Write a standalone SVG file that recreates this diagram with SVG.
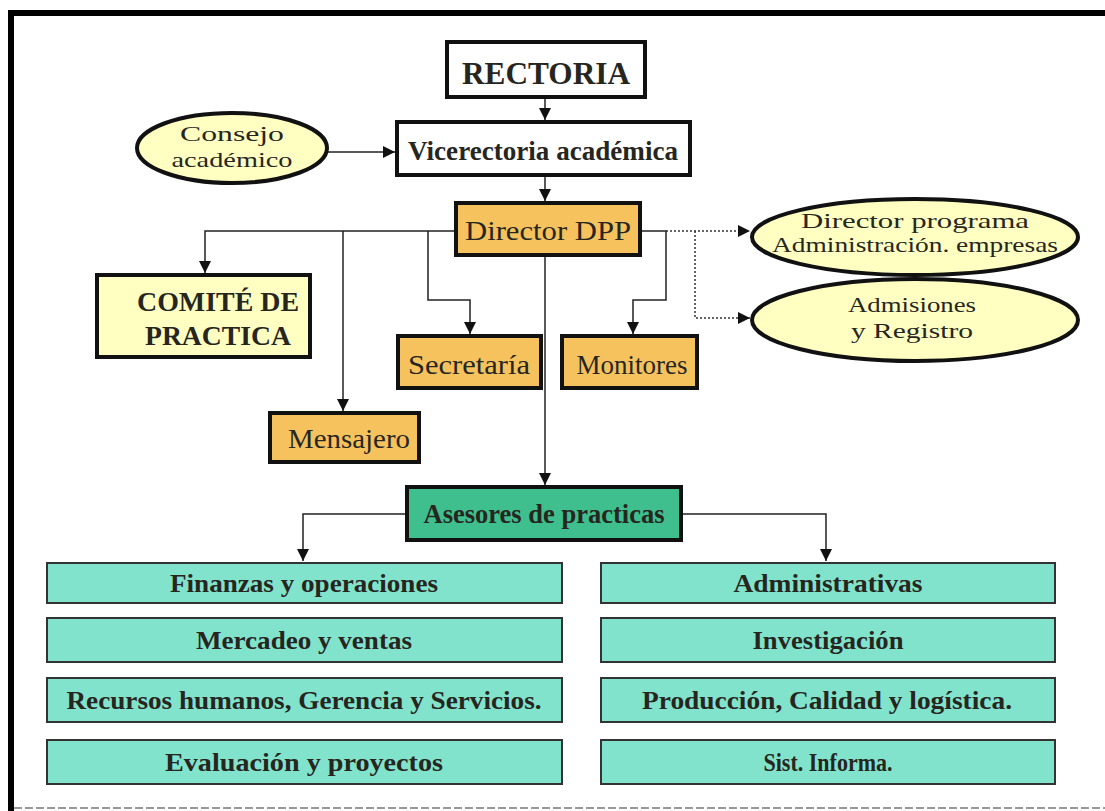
<svg xmlns="http://www.w3.org/2000/svg" width="1105" height="811" viewBox="0 0 1105 811">
<style>
.t{font-family:"Liberation Serif","Times New Roman",serif;fill:#26261f;text-anchor:middle}
.b{font-weight:bold}
.box{stroke:#111;stroke-width:4}
.thin{stroke:#333;stroke-width:2}
.ln{fill:none;stroke:#222;stroke-width:1.5}
.dot{fill:none;stroke:#333;stroke-width:1.5;stroke-dasharray:2 2}
.white{fill:#fff}
.yel{fill:#FFFFC2}
.org{fill:#F6C25E}
.grn{fill:#3FBF8E}
.teal{fill:#82E3CC}
</style>
<defs>
<marker id="ahL" viewBox="0 0 10 10" refX="10" refY="5" markerWidth="12" markerHeight="12" markerUnits="userSpaceOnUse" orient="auto">
<path d="M0,0 L10,5 L0,10 z" fill="#111"/>
</marker>
</defs>
<rect width="1105" height="811" fill="#fff"/>
<g id="frame">
<line x1="8" y1="13" x2="1105" y2="13" stroke="#000" stroke-width="6"/>
<line x1="11" y1="10" x2="11" y2="811" stroke="#000" stroke-width="6"/>
<line x1="14" y1="808" x2="1105" y2="808" stroke="#999" stroke-width="2" stroke-dasharray="8 3"/>
</g>
<g id="connectors">
<line class="ln" x1="545" y1="97" x2="545" y2="120" marker-end="url(#ahL)"/>
<line class="ln" x1="328" y1="152" x2="395" y2="152" marker-end="url(#ahL)"/>
<line class="ln" x1="545" y1="175" x2="545" y2="201" marker-end="url(#ahL)"/>
<polyline class="ln" points="456,231 205,231 205,273" marker-end="url(#ahL)"/>
<line class="ln" x1="343" y1="231" x2="343" y2="411" marker-end="url(#ahL)"/>
<polyline class="ln" points="428,231 428,300 470,300 470,334" marker-end="url(#ahL)"/>
<polyline class="ln" points="640,231 666,231 666,300 633,300 633,334" marker-end="url(#ahL)"/>
<line class="ln" x1="545" y1="255" x2="545" y2="485" marker-end="url(#ahL)"/>
<polyline class="dot" points="666,231 750,231" marker-end="url(#ahL)"/>
<polyline class="dot" points="695,231 695,318 750,318" marker-end="url(#ahL)"/>
<polyline class="ln" points="407,514 303,514 303,561" marker-end="url(#ahL)"/>
<polyline class="ln" points="681,514 826,514 826,561" marker-end="url(#ahL)"/>
</g>
<g id="rectoria">
<rect class="box white" x="447" y="42" width="198" height="55"/>
<text class="t b" x="546" y="84" font-size="31" textLength="168" lengthAdjust="spacingAndGlyphs">RECTORIA</text>
</g>
<g id="consejo">
<ellipse class="box yel" cx="232" cy="148" rx="95" ry="35"/>
<text class="t" x="232" y="141" font-size="22" textLength="104" lengthAdjust="spacingAndGlyphs">Consejo</text>
<text class="t" x="232" y="167" font-size="22" textLength="121" lengthAdjust="spacingAndGlyphs">académico</text>
</g>
<g id="vicerectoria">
<rect class="box white" x="397" y="122" width="293" height="53"/>
<text class="t b" x="543" y="160" font-size="27" textLength="270" lengthAdjust="spacingAndGlyphs">Vicerectoria académica</text>
</g>
<g id="director">
<rect class="box org" x="456" y="203" width="184" height="52"/>
<text class="t" x="548" y="240" font-size="28" textLength="166" lengthAdjust="spacingAndGlyphs">Director DPP</text>
</g>
<g id="director-programa">
<ellipse class="box yel" cx="915" cy="237" rx="163" ry="38"/>
<text class="t" x="915" y="228" font-size="21" textLength="228" lengthAdjust="spacingAndGlyphs">Director programa</text>
<text class="t" x="915" y="252" font-size="21" textLength="286" lengthAdjust="spacingAndGlyphs">Administración. empresas</text>
</g>
<g id="admisiones">
<ellipse class="box yel" cx="915" cy="320" rx="163" ry="41"/>
<text class="t" x="912" y="312" font-size="22" textLength="128" lengthAdjust="spacingAndGlyphs">Admisiones</text>
<text class="t" x="912" y="338" font-size="22" textLength="122" lengthAdjust="spacingAndGlyphs">y Registro</text>
</g>
<g id="comite">
<rect class="box yel" x="97" y="275" width="213" height="82"/>
<text class="t b" x="218" y="311" font-size="27" textLength="162" lengthAdjust="spacingAndGlyphs">COMITÉ DE</text>
<text class="t b" x="218" y="345" font-size="27" textLength="146" lengthAdjust="spacingAndGlyphs">PRACTICA</text>
</g>
<g id="secretaria">
<rect class="box org" x="398" y="336" width="143" height="52"/>
<text class="t" x="469" y="374" font-size="28" textLength="122" lengthAdjust="spacingAndGlyphs">Secretaría</text>
</g>
<g id="monitores">
<rect class="box org" x="562" y="336" width="135" height="52"/>
<text class="t" x="632" y="374" font-size="28" textLength="111" lengthAdjust="spacingAndGlyphs">Monitores</text>
</g>
<g id="mensajero">
<rect class="box org" x="270" y="413" width="149" height="49"/>
<text class="t" x="349" y="448" font-size="28" textLength="122" lengthAdjust="spacingAndGlyphs">Mensajero</text>
</g>
<g id="asesores">
<rect class="box grn" x="407" y="487" width="274" height="53"/>
<text class="t b" x="544" y="523" font-size="27" textLength="241" lengthAdjust="spacingAndGlyphs">Asesores de practicas</text>
</g>
<g id="finanzas">
<rect class="thin teal" x="47" y="563" width="515" height="40"/>
<text class="t b" x="304" y="592" font-size="25" textLength="268" lengthAdjust="spacingAndGlyphs">Finanzas y operaciones</text>
</g>
<g id="mercadeo">
<rect class="thin teal" x="47" y="618" width="515" height="44"/>
<text class="t b" x="304" y="649" font-size="25" textLength="216" lengthAdjust="spacingAndGlyphs">Mercadeo y ventas</text>
</g>
<g id="recursos">
<rect class="thin teal" x="47" y="678" width="515" height="44"/>
<text class="t b" x="304" y="709" font-size="25" textLength="475" lengthAdjust="spacingAndGlyphs">Recursos humanos, Gerencia y Servicios.</text>
</g>
<g id="evaluacion">
<rect class="thin teal" x="47" y="740" width="515" height="44"/>
<text class="t b" x="304" y="771" font-size="25" textLength="278" lengthAdjust="spacingAndGlyphs">Evaluación y  proyectos</text>
</g>
<g id="administrativas">
<rect class="thin teal" x="601" y="563" width="454" height="40"/>
<text class="t b" x="828" y="592" font-size="25" textLength="189" lengthAdjust="spacingAndGlyphs">Administrativas</text>
</g>
<g id="investigacion">
<rect class="thin teal" x="601" y="618" width="454" height="44"/>
<text class="t b" x="828" y="649" font-size="25" textLength="151" lengthAdjust="spacingAndGlyphs">Investigación</text>
</g>
<g id="produccion">
<rect class="thin teal" x="601" y="678" width="454" height="44"/>
<text class="t b" x="827" y="709" font-size="25" textLength="370" lengthAdjust="spacingAndGlyphs">Producción, Calidad y logística.</text>
</g>
<g id="sistemas">
<rect class="thin teal" x="601" y="740" width="454" height="44"/>
<text class="t b" x="828" y="771" font-size="25" textLength="129" lengthAdjust="spacingAndGlyphs">Sist. Informa.</text>
</g>
</svg>
